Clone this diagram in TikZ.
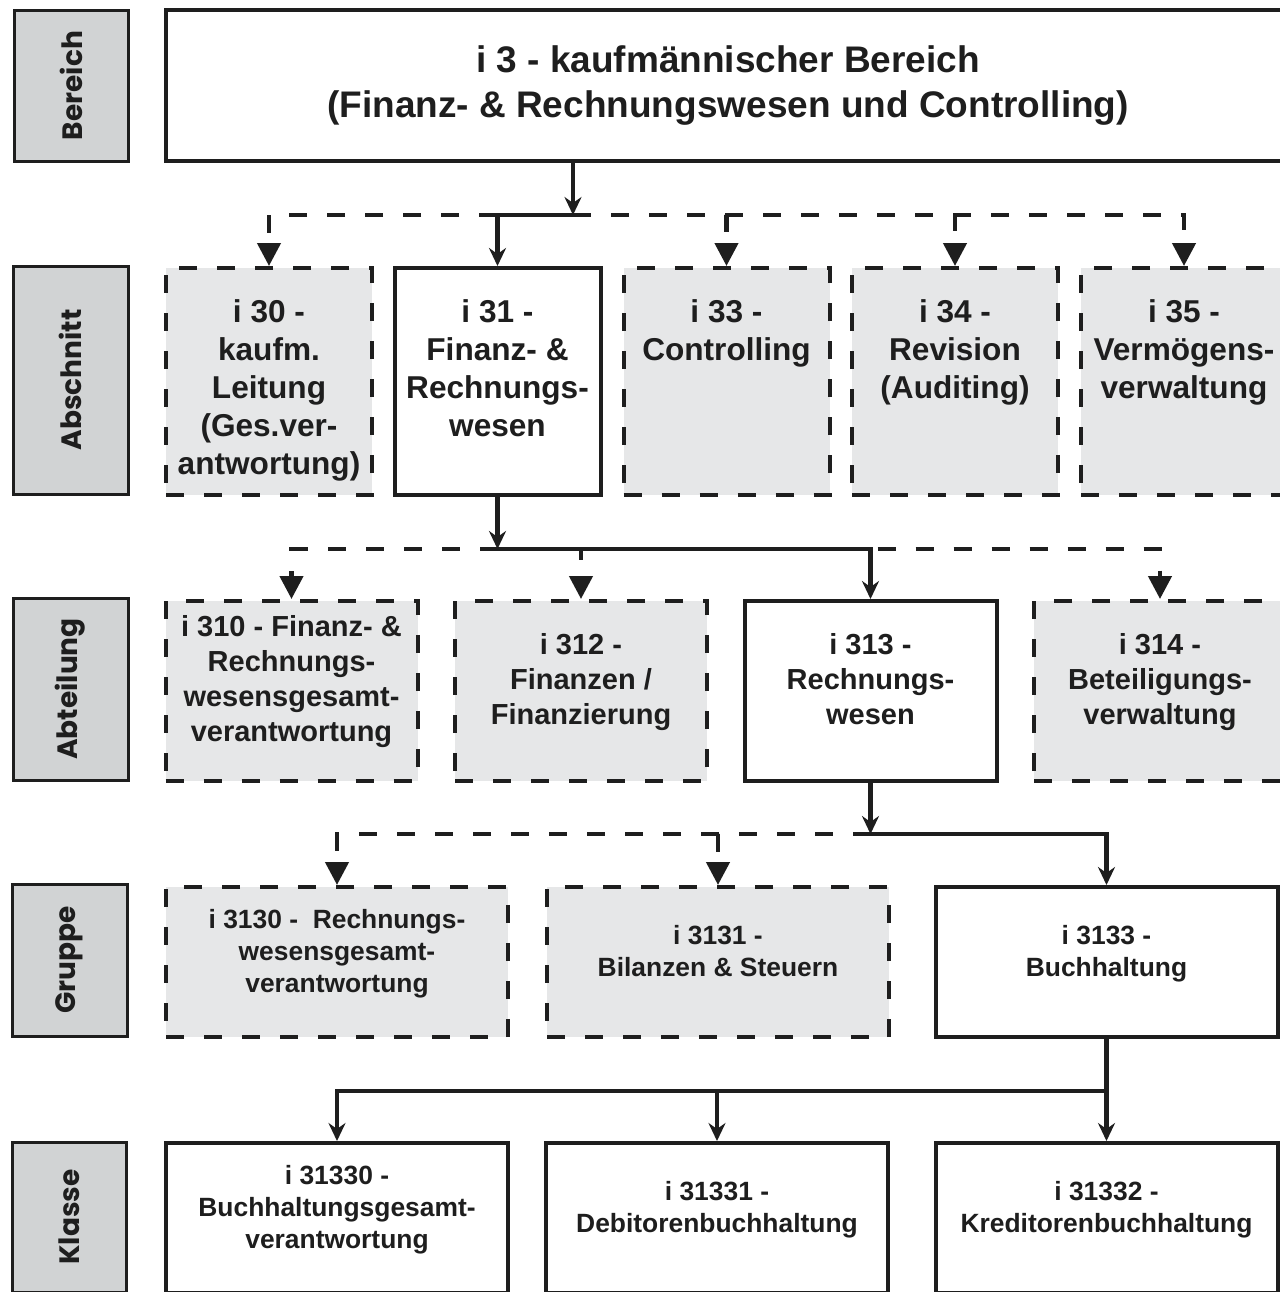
\documentclass[tikz,border=0pt]{standalone}
\usepackage{fontspec}
\setmainfont{Liberation Sans}
\newfontfamily\tagfont{Poppins}
\usetikzlibrary{arrows.meta, positioning}

\definecolor{ink}{HTML}{1E1E1E}
\definecolor{boxgray}{HTML}{E6E7E8}
\definecolor{taggray}{HTML}{D1D3D4}

\tikzset{
  tag/.style={draw=ink, fill=taggray, line width=1.5pt, rotate=90, inner sep=0pt, text=ink,
    font=\tagfont\bfseries\fontsize{14}{14}\selectfont},
  solidbox/.style={draw=ink, fill=white, line width=2pt, inner sep=0pt},
  dashbox/.style={draw=ink, fill=boxgray, line width=2pt, dash pattern=on 9pt off 10pt, inner sep=0pt},
  txt/.style={anchor=north, inner sep=0pt, align=center, text=ink},
  abs/.style={minimum width=103pt, minimum height=113.5pt},
  abt/.style={minimum width=126pt, minimum height=90pt},
  grp/.style={minimum width=171pt, minimum height=75pt},
  abstxt/.style={txt, yshift=-16.5pt, font=\bfseries\fontsize{15.8}{19}\selectfont},
  abttxt/.style={txt, yshift=-16.8pt, font=\bfseries\fontsize{14.5}{17.5}\selectfont},
  grptxt/.style={txt, yshift=-20.2pt, font=\bfseries\fontsize{13.2}{16}\selectfont},
  sline/.style={draw=ink, line width=2.2pt, -{Stealth[length=9pt, width=8.5pt, inset=3pt]}},
  dline/.style={draw=ink, line width=2.2pt, dash pattern=on 9pt off 10pt, -{Triangle[length=11.5pt, width=11.5pt]}},
}

\begin{document}
\begin{tikzpicture}[x=0.5pt, y=-0.5pt]

\path[use as bounding box, clip] (0,0) rectangle (1280,1292);

% levels on the left
\node[tag, minimum width=75.5pt, minimum height=57pt] (tBer) at (71,85.5) {Bereich};
\node[tag, minimum width=114pt, minimum height=57.5pt] (tAbs) at (70.5,380) {Abschnitt};
\node[tag, minimum width=91pt, minimum height=57.5pt] (tAbt) at (70.5,689) {Abteilung};
\node[tag, minimum width=76pt, minimum height=57.5pt] (tGru) at (69.5,960) {Gruppe};
\node[tag, minimum width=75pt, minimum height=57pt] (tKla) at (69,1217) {Klasse};

% Bereich
\node[solidbox, minimum width=562pt, minimum height=75.5pt, align=center, text=ink,
  font=\bfseries\fontsize{18.5}{22.5}\selectfont] (top) at (728,85.5)
  {i 3 - kaufmännischer Bereich\\(Finanz- \& Rechnungswesen und Controlling)};

% Abschnitt
\node[dashbox, abs, label={[abstxt]north:i 30 -\\kaufm.\\Leitung\\(Ges.ver-\\antwortung)}] (a30) at (269,381.5) {};
\node[solidbox, abs, label={[abstxt]north:i 31 -\\Finanz- \&\\Rechnungs-\\wesen}] (a31) at (497.5,381.5) {};
\node[dashbox, abs, label={[abstxt]north:i 33 -\\Controlling}] (a33) at (726.5,381.5) {};
\node[dashbox, abs, label={[abstxt]north:i 34 -\\Revision\\(Auditing)}] (a34) at (955,381.5) {};
\node[dashbox, abs, label={[abstxt]north:i 35 -\\Vermögens-\\verwaltung}] (a35) at (1184,381.5) {};

% Abteilung
\node[dashbox, abt, label={[abttxt, yshift=9pt]north:i 310 - Finanz- \&\\Rechnungs-\\wesensgesamt-\\verantwortung}] (b310) at (291.5,691) {};
\node[dashbox, abt, label={[abttxt]north:i 312 -\\Finanzen /\\Finanzierung}] (b312) at (581,691) {};
\node[solidbox, abt, label={[abttxt]north:i 313 -\\Rechnungs-\\wesen}] (b313) at (870.5,691) {};
\node[dashbox, abt, label={[abttxt]north:i 314 -\\Beteiligungs-\\verwaltung}] (b314) at (1160,691) {};

% Gruppe
\node[dashbox, grp, label={[grptxt, yshift=8.4pt]north:i 3130 -\ \ Rechnungs-\\wesensgesamt-\\verantwortung}] (c3130) at (337,962) {};
\node[dashbox, grp, label={[grptxt]north:i 3131 -\\Bilanzen \& Steuern}] (c3131) at (718,962) {};
\node[solidbox, grp, label={[grptxt]north:i 3133 -\\Buchhaltung}] (c3133) at (1106.5,962) {};

% Klasse
\node[solidbox, grp, label={[grptxt, yshift=8.4pt]north:i 31330 -\\Buchhaltungsgesamt-\\verantwortung}] (d31330) at (337,1218) {};
\node[solidbox, grp, label={[grptxt]north:i 31331 -\\Debitorenbuchhaltung}] (d31331) at (717,1218) {};
\node[solidbox, grp, label={[grptxt]north:i 31332 -\\Kreditorenbuchhaltung}] (d31332) at (1106.5,1218) {};

% connectors
\coordinate (j1) at (573,215);
\coordinate[below=26pt of a31.south] (j2);
\coordinate[below=25.5pt of b313.south] (j3);
\coordinate[below=26pt of c3133.south] (j4);

\draw[sline] (top.south -| j1) -- (j1);
\draw[dline] (j1) -| (a30.north);
\draw[dline] (j1) -| (a33.north);
\draw[dline] (j1) -| (a34.north);
\draw[dline] (j1) -| (a35.north);
\draw[sline] (j1) -| (a31.north);

\draw[sline] (a31.south) -- (j2);
\draw[dline] (j2) -| (b310.north);
\draw[dline] (j2) -| (b312.north);
\draw[dline] (j2) -| (b314.north);
\draw[sline] (j2) -| (b313.north);

\draw[sline] (b313.south) -- (j3);
\draw[dline] (j3) -| (c3130.north);
\draw[dline] (j3) -| (c3131.north);
\draw[sline] (j3) -| (c3133.north);

\draw[draw=ink, line width=2.2pt] (c3133.south) -- (j4);
\draw[sline] (j4) -| (d31330.north);
\draw[sline] (j4) -| (d31331.north);
\draw[sline] (j4) -- (d31332.north);

\end{tikzpicture}
\end{document}
